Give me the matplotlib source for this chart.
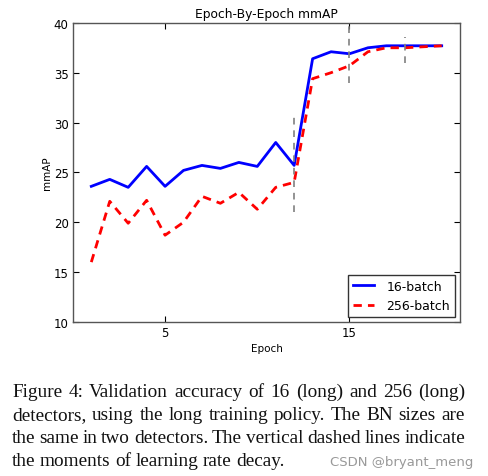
import matplotlib
matplotlib.use("Agg")
import matplotlib.pyplot as plt

# data
epochs = list(range(1, 21))
map_16 = [23.6, 24.3, 23.5, 25.6, 23.6, 25.2, 25.7, 25.4, 26.0, 25.6,
          28.0, 25.7, 36.4, 37.1, 36.9, 37.5, 37.7, 37.7, 37.7, 37.7]
map_256 = [16.0, 22.1, 19.9, 22.2, 18.7, 20.0, 22.6, 21.9, 23.0, 21.3,
           23.5, 24.0, 34.4, 35.0, 35.7, 37.1, 37.5, 37.5, 37.6, 37.7]
decay_epochs = [12, 15, 18]
decay_lo = [21.0, 34.0, 36.0]
decay_hi = [31.0, 40.0, 38.6]

caption = [
    "Figure 4:  Validation accuracy of 16 (long) and 256 (long)",
    "detectors, using the long training policy.  The BN sizes are",
    "the same in two detectors. The vertical dashed lines indicate",
    "the moments of learning rate decay.",
]

fig = plt.figure(figsize=(4.89, 4.77), dpi=100)
ax = fig.add_axes([0.149, 0.323, 0.792, 0.627])

ax.plot(epochs, map_16, color="blue", lw=2, label="16-batch")
ax.plot(epochs, map_256, color="red", lw=2, ls="--", dashes=(3, 2.2), label="256-batch")
for x, lo, hi in zip(decay_epochs, decay_lo, decay_hi):
    ax.plot([x, x], [lo, hi], color="gray", lw=1.2, ls="--", dashes=(4, 3.5))

ax.set_xlim(0, 21)
ax.set_ylim(10, 40)
ax.set_xticks([5, 15])
ax.set_yticks([10, 15, 20, 25, 30, 35, 40])
ax.tick_params(direction="in", top=True, right=True, labelsize=8.5, length=4, width=0.8, pad=3)
for s in ax.spines.values():
    s.set_color("#555555")
    s.set_linewidth(1)
ax.set_title("Epoch-By-Epoch mmAP", fontsize=8.8, pad=4)
ax.set_xlabel("Epoch", fontsize=7.5, labelpad=3)
ax.set_ylabel("mmAP", fontsize=7.5, labelpad=1.5)
leg = ax.legend(loc="lower right", fontsize=9, fancybox=False, framealpha=1,
                borderaxespad=0.4, handlelength=1.65, handletextpad=1.0)
leg.get_frame().set_edgecolor("#333333")

# justified caption
left, right = 12, 465
baselines = [397, 420, 443, 466]
W, H = 489, 477
renderer = fig.canvas.get_renderer()
for i, line in enumerate(caption):
    words = line.split()
    y = 1 - baselines[i] / H
    texts = [fig.text(0, y, w, fontsize=13.9, family="Liberation Serif",
                      va="baseline", color="#111111") for w in words]
    widths = [t.get_window_extent(renderer).width for t in texts]
    if i < len(caption) - 1:
        gap = (right - left - sum(widths)) / (len(words) - 1)
    else:
        gap = 4.5
    x = left
    for t, w in zip(texts, widths):
        t.set_x(x / W)
        x += w + gap

fig.text(473 / W, 1 - 466 / H, "CSDN @bryant_meng", fontsize=9.5, color="#999999",
         ha="right", va="baseline")

fig.savefig("out.png", dpi=100)
